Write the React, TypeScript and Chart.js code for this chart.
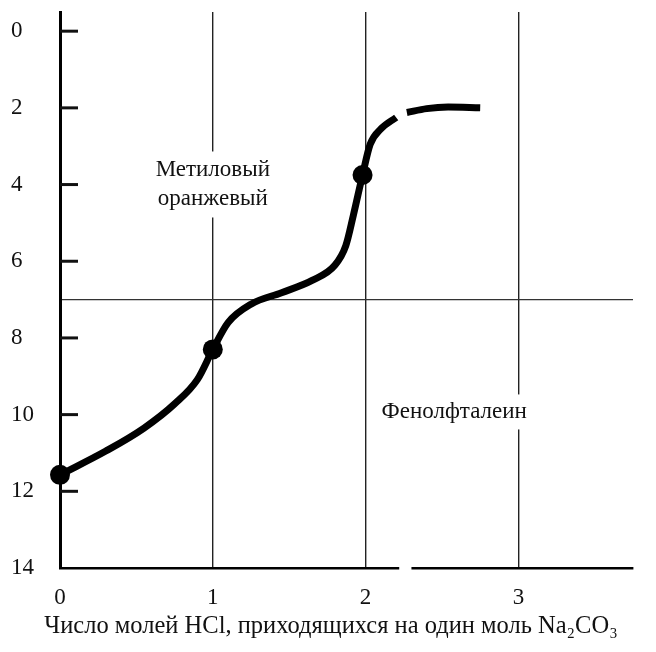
import React, { useEffect, useRef } from "react";
import { Chart, registerables } from "chart.js";

Chart.register(...registerables);

// ---- data ----
const xTickValues = [0, 1, 2, 3];
const xTickLabels = ["0", "1", "2", "3"];
const yTickValues = [0, 2, 4, 6, 8, 10, 12, 14];
const yTickLabels = ["0", "2", "4", "6", "8", "10", "12", "14"];

// titration curve (moles HCl per mole Na2CO3 vs pH), first part
const curveMoles1 = [0, 0.3, 0.55, 0.75, 0.9, 1.0, 1.1, 1.25, 1.45, 1.65, 1.8, 1.87, 1.92, 1.98, 2.03, 2.1, 2.2];
const curvePH1 = [11.57, 10.95, 10.35, 9.72, 9.08, 8.3, 7.6, 7.12, 6.82, 6.5, 6.1, 5.6, 4.8, 3.75, 2.95, 2.55, 2.25];
// second part (after the break)
const curveMoles2 = [2.27, 2.4, 2.54, 2.75];
const curvePH2 = [2.12, 2.02, 1.98, 2.0];

// start point and equivalence points
const markerMoles = [0, 1, 1.98];
const markerPH = [11.57, 8.3, 3.75];

const indicatorBoundaryPH = 7;

const xTitle = "Число молей HCl, приходящихся на один моль Na₂CO₃";
const methylLabel = ["Метиловый", "оранжевый"];
const phenolLabel = "Фенолфталеин";

// ---- styling constants ----
const SERIF = "'Liberation Serif', 'DejaVu Serif', serif";
const INK = "#111";

export default function App() {
  const canvasRef = useRef<HTMLCanvasElement | null>(null);

  useEffect(() => {
    const canvas = canvasRef.current;
    if (!canvas) return;

    const decor = {
      id: "decor",
      afterDatasetsDraw(chart: any) {
        const { ctx, scales, chartArea } = chart;
        const xs = scales.x;
        const ys = scales.y;
        ctx.save();
        // small break in the bottom axis line (as in the print)
        ctx.fillStyle = "#fff";
        const gx0 = xs.getPixelForValue(2.22);
        const gx1 = xs.getPixelForValue(2.3);
        ctx.fillRect(gx0, chartArea.bottom - 3, gx1 - gx0, 6);

        // inward tick marks on the pH axis
        ctx.strokeStyle = INK;
        ctx.lineWidth = 3;
        const left = xs.getPixelForValue(0);
        yTickValues.forEach((v) => {
          if (v === 14) return;
          const py = ys.getPixelForValue(v);
          ctx.beginPath();
          ctx.moveTo(left, py);
          ctx.lineTo(left + 18, py);
          ctx.stroke();
        });

        // text labels with white background (interrupting grid lines)
        ctx.font = `23px ${SERIF}`;
        ctx.textAlign = "center";
        ctx.textBaseline = "middle";
        const drawBoxed = (lines: string[], xv: number, yv: number, lineGap: number) => {
          const cx = xs.getPixelForValue(xv);
          const cy = ys.getPixelForValue(yv);
          const widths = lines.map((l) => ctx.measureText(l).width);
          const w = Math.max(...widths) + 10;
          const h = lines.length * lineGap + 8;
          ctx.fillStyle = "#fff";
          ctx.fillRect(cx - w / 2, cy - 4 - lineGap / 2, w, h);
          ctx.fillStyle = INK;
          lines.forEach((l, i) => ctx.fillText(l, cx, cy + i * lineGap));
        };
        drawBoxed(methylLabel, 1.0, 3.62, 29);
        drawBoxed([phenolLabel], 2.58, 9.93, 27);
        ctx.restore();
      },
      afterDraw(chart: any) {
        const { ctx } = chart;
        ctx.save();
        ctx.font = `24.5px ${SERIF}`;
        ctx.fillStyle = INK;
        ctx.textAlign = "center";
        ctx.textBaseline = "middle";
        ctx.fillText(xTitle, 331, 627);
        ctx.restore();
      },
    };

    const chart = new Chart(canvas, {
      type: "line",
      data: {
        datasets: [
          {
            type: "line",
            data: curveMoles1.map((x, i) => ({ x, y: curvePH1[i] })),
            borderColor: "#000",
            borderWidth: 7,
            pointRadius: 0,
            cubicInterpolationMode: "monotone",
            fill: false,
          } as any,
          {
            type: "line",
            data: curveMoles2.map((x, i) => ({ x, y: curvePH2[i] })),
            borderColor: "#000",
            borderWidth: 7,
            pointRadius: 0,
            cubicInterpolationMode: "monotone",
            fill: false,
          } as any,
          {
            type: "scatter",
            data: markerMoles.map((x, i) => ({ x, y: markerPH[i] })),
            backgroundColor: "#000",
            borderColor: "#000",
            borderWidth: 0,
            pointRadius: 10,
            pointHoverRadius: 10,
            clip: false,
          } as any,
        ],
      },
      options: {
        responsive: false,
        animation: false,
        events: [],
        layout: { padding: { left: 11, right: 23, top: 12, bottom: 0 } },
        plugins: {
          legend: { display: false },
          tooltip: { enabled: false },
          title: { display: false },
        },
        scales: {
          x: {
            type: "linear",
            min: 0,
            max: 3.75,
            afterBuildTicks: (scale: any) => {
              scale.ticks = xTickValues.map((v) => ({ value: v }));
            },
            afterFit: (scale: any) => {
              scale.height = 84;
              scale.paddingLeft = 0;
              scale.paddingRight = 0;
            },
            ticks: {
              color: INK,
              font: { family: SERIF, size: 23 },
              padding: 16,
              maxRotation: 0,
              autoSkip: false,
              callback: (v: any) => {
                const i = xTickValues.indexOf(Number(v));
                return i >= 0 ? xTickLabels[i] : "";
              },
            },
            grid: {
              drawTicks: false,
              color: (c: any) => (c.tick && c.tick.value === 0 ? "rgba(0,0,0,0)" : "#222"),
              lineWidth: 1.4,
            },
            border: { display: true, color: "#000", width: 2.5 },
          },
          y: {
            type: "linear",
            reverse: true,
            min: -0.5,
            max: 14,
            afterBuildTicks: (scale: any) => {
              const vals = [...yTickValues, indicatorBoundaryPH].sort((a, b) => a - b);
              scale.ticks = vals.map((v) => ({ value: v }));
            },
            afterFit: (scale: any) => {
              scale.width = 49;
              scale.paddingTop = 0;
              scale.paddingBottom = 0;
            },
            ticks: {
              color: INK,
              font: { family: SERIF, size: 23 },
              crossAlign: "far",
              autoSkip: false,
              callback: (v: any) => {
                const i = yTickValues.indexOf(Number(v));
                return i >= 0 ? yTickLabels[i] : "";
              },
            },
            grid: {
              drawTicks: false,
              color: (c: any) =>
                c.tick && c.tick.value === indicatorBoundaryPH ? "#333" : "rgba(0,0,0,0)",
              lineWidth: 1.2,
            },
            border: { display: true, color: "#000", width: 3 },
          },
        },
      } as any,
      plugins: [decor],
    });

    return () => chart.destroy();
  }, []);

  return (
    <div style={{ position: "absolute", left: 0, top: 0, width: 656, height: 652, background: "#fff" }}>
      <canvas ref={canvasRef} width={656} height={652} style={{ width: 656, height: 652 }} />
    </div>
  );
}
